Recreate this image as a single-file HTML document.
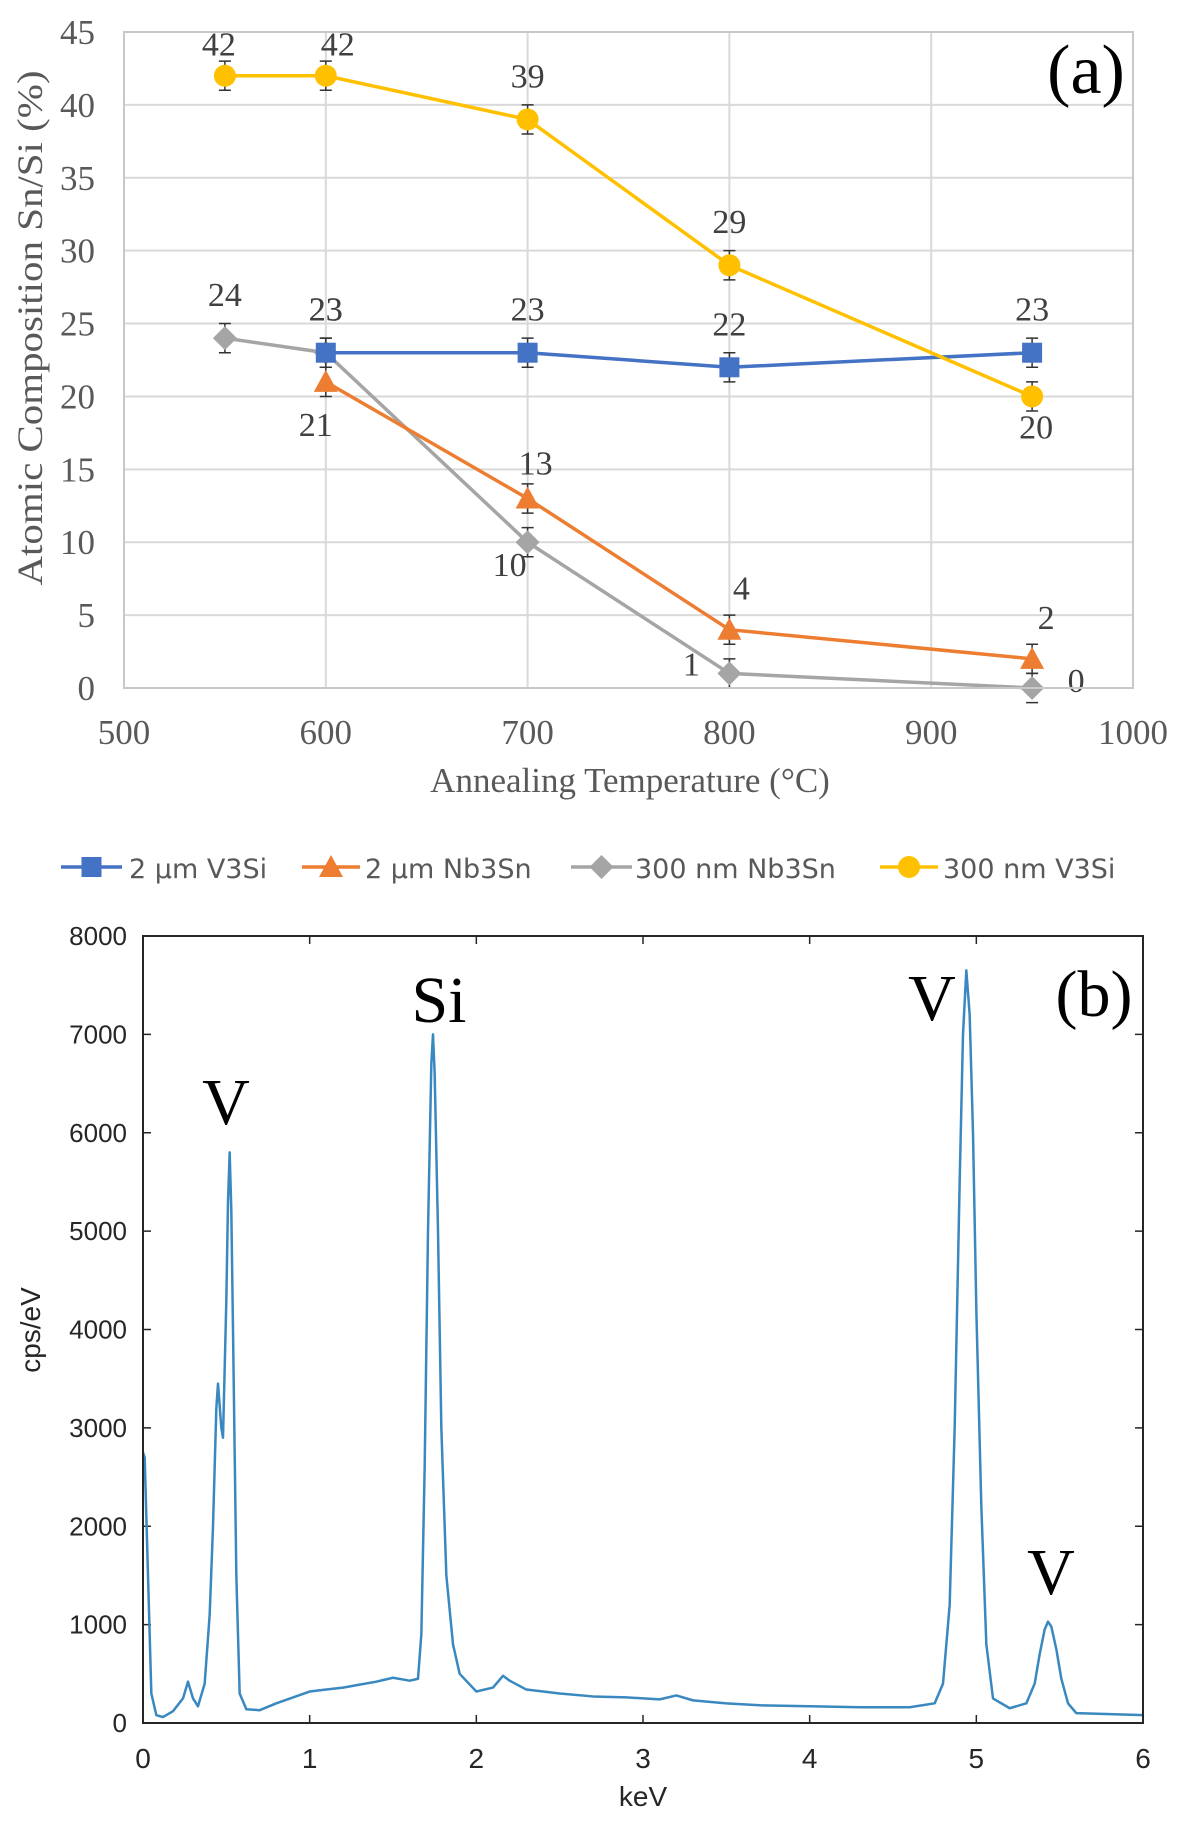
<!DOCTYPE html>
<html><head><meta charset="utf-8">
<style>
html,body{margin:0;padding:0;background:#fff;}
svg{display:block;}
</style></head>
<body>
<svg id="fig" width="1185" height="1830" xmlns="http://www.w3.org/2000/svg">
<g id="chartA"></g>
<g id="legend"></g>
<g id="chartB"></g>
</svg>
<script>
// ---- Chart (a) data ----
const seriesNames = ["2 µm V3Si","2 µm Nb3Sn","300 nm Nb3Sn","300 nm V3Si"];
const tempsBlue = [600,700,800,950];
const valsBlue = [23,23,22,23];
const tempsOrange = [600,700,800,950];
const valsOrange = [21,13,4,2];
const tempsGray = [550,600,700,800,950];
const valsGray = [24,23,10,1,0];
const tempsYellow = [550,600,700,800,950];
const valsYellow = [42,42,39,29,20];
const errBar = 1;
const xTicksA = [500,600,700,800,900,1000];
const yTicksA = [0,5,10,15,20,25,30,35,40,45];
// ---- Chart (b) data: EDS spectrum (keV, cps/eV) ----
const keV = [0,0.01,0.03,0.05,0.08,0.12,0.18,0.24,0.27,0.30,0.33,0.37,0.40,0.42,0.44,0.45,0.47,0.48,0.50,0.51,0.52,0.53,0.54,0.56,0.58,0.62,0.7,0.8,0.9,1.0,1.1,1.2,1.3,1.4,1.5,1.6,1.65,1.67,1.69,1.71,1.73,1.74,1.75,1.77,1.79,1.82,1.86,1.9,2.0,2.1,2.16,2.2,2.3,2.5,2.7,2.9,3.1,3.2,3.3,3.5,3.7,4.0,4.3,4.6,4.75,4.8,4.84,4.87,4.9,4.92,4.94,4.96,4.98,5.0,5.03,5.06,5.1,5.2,5.3,5.35,5.38,5.41,5.43,5.45,5.48,5.51,5.55,5.6,5.8,6.0];
const cps = [2750,2700,1500,300,80,60,120,250,420,250,170,400,1100,2000,3200,3450,3000,2900,4300,5300,5800,5200,4000,1500,300,140,130,200,260,320,340,360,390,420,460,430,450,900,2600,5000,6700,7000,6600,5000,3000,1500,800,500,320,360,480,430,340,300,270,260,240,280,230,200,180,170,160,160,200,400,1200,3000,5500,7000,7650,7200,6000,4200,2200,800,250,150,200,400,700,950,1030,980,750,450,200,100,90,80];
const xTicksB = [0,1,2,3,4,5,6];
const yTicksB = [0,1000,2000,3000,4000,5000,6000,7000,8000];

const NS = "http://www.w3.org/2000/svg";
function mk(tag, attrs, parent, text){
  const e = document.createElementNS(NS, tag);
  for (const k in attrs) e.setAttribute(k, attrs[k]);
  if (text !== undefined) e.textContent = text;
  parent.appendChild(e);
  return e;
}
const A = document.getElementById('chartA');
const L0 = 124, R0 = 1133, T0 = 32, B0 = 688;
const xA = v => L0 + (v-500)/500*(R0-L0);
const yA = v => B0 - v/45*(B0-T0);
const serif = '"Liberation Serif", serif';

yTicksA.forEach(t=>{
  const g = mk('line',{x1:L0,x2:R0,y1:yA(t),y2:yA(t),stroke:'#d9d9d9','stroke-width':2},A);
  
  
  const lb = mk('text',{x:L0-29,y:yA(t)+12,'text-anchor':'end','font-family':serif,'font-size':35,fill:'#595959'},A,String(t));
  
  
});
xTicksA.forEach(t=>{
  const g = mk('line',{x1:xA(t),x2:xA(t),y1:T0,y2:B0,stroke:'#d9d9d9','stroke-width':2},A);
  
  
  const lb = mk('text',{x:xA(t),y:744,'text-anchor':'middle','font-family':serif,'font-size':35,fill:'#595959'},A,String(t));
  
  
});
const axT = mk('text',{x:630,y:792,'text-anchor':'middle','font-family':serif,'font-size':35,fill:'#595959'},A,'Annealing Temperature (°C)');


const ayT = mk('text',{x:0,y:0,'text-anchor':'middle','font-family':serif,'font-size':36,fill:'#595959',textLength:515,lengthAdjust:'spacingAndGlyphs',transform:'translate(42,328) rotate(-90)'},A,'Atomic Composition Sn/Si (%)');


const pa = mk('text',{x:1086,y:93,'text-anchor':'middle','font-family':serif,'font-size':70,fill:'#000'},A,'(a)');



const colors = ['#4472c4','#ed7d31','#a5a5a5','#ffc000'];
const markers = ['square','triangle','diamond','circle'];
const allT = [tempsBlue,tempsOrange,tempsGray,tempsYellow];
const allV = [valsBlue,valsOrange,valsGray,valsYellow];
const labOff = [
  [[0,-32],[0,-32],[0,-32],[0,-32]],
  [[-10,54],[8,-24],[12,-30],[14,-30]],
  [[0,-32],[0,-32],[-18,34],[-38,2],[44,4]],
  [[-6,-20],[12,-20],[0,-32],[0,-32],[4,42]]
];
function marker(kind,x,y,c,g){
  let e;
  if(kind==='square') e = mk('rect',{x:x-10,y:y-10,width:20,height:20,fill:c},g);
  else if(kind==='triangle') e = mk('polygon',{points:`${x},${y-12} ${x+12},${y+10} ${x-12},${y+10}`,fill:c},g);
  else if(kind==='diamond') e = mk('polygon',{points:`${x},${y-12} ${x+12},${y} ${x},${y+12} ${x-12},${y}`,fill:c},g);
  else e = mk('circle',{cx:x,cy:y,r:11,fill:c},g);
  return e;
}
[2,1,0,3].forEach(s=>{
  const g = mk('g',{},A);
  
  
  const pts = allT[s].map((t,i)=>xA(t)+','+yA(allV[s][i])).join(' ');
  const pl = mk('polyline',{points:pts,fill:'none',stroke:colors[s],'stroke-width':3.5},g);
  
  
  allT[s].forEach((t,i)=>{
    const x = xA(t), y = yA(allV[s][i]);
    const y1 = yA(allV[s][i]+errBar), y2 = yA(Math.max(0,allV[s][i]-errBar));
    const eb = mk('path',{d:`M${x},${y1}V${y2}M${x-6},${y1}H${x+6}M${x-6},${yA(allV[s][i]-errBar)}H${x+6}`,stroke:'#333','stroke-width':1.5,fill:'none'},g);
    
    
    const m = marker(markers[s],x,y,colors[s],g);
    
    
    const o = labOff[s][i];
    const lb = mk('text',{x:x+o[0],y:y+o[1],'text-anchor':'middle','font-family':serif,'font-size':34,fill:'#404040'},g,String(allV[s][i]));
    
    
  });
});
const fr = mk('rect',{x:L0,y:T0,width:R0-L0,height:B0-T0,fill:'none',stroke:'#c8c8c8','stroke-width':2},A);



const LG = document.getElementById('legend');
const legX = [[61,122,129],[302,360,365],[571,632,635],[880,938,943]];
seriesNames.forEach((n,s)=>{
  const g = mk('g',{},LG);
  
  
  mk('line',{x1:legX[s][0],x2:legX[s][1],y1:867,y2:867,stroke:colors[s],'stroke-width':3.5},g);
  marker(markers[s],(legX[s][0]+legX[s][1])/2,867,colors[s],g);
  mk('text',{x:legX[s][2],y:878,'font-family':'"DejaVu Sans", sans-serif','font-size':27,fill:'#595959'},g,n);
});

const Bc = document.getElementById('chartB');
const L1 = 143, R1 = 1143, T1 = 936, B1 = 1723;
const xB = v => L1 + v/6*(R1-L1);
const yB = v => B1 - v/8000*(B1-T1);
const sans = '"Liberation Sans", sans-serif';
yTicksB.forEach(t=>{
  const tk = mk('path',{d:`M${L1},${yB(t)}h8M${R1},${yB(t)}h-8`,stroke:'#262626','stroke-width':1.5},Bc);
  
  
  const lb = mk('text',{x:127,y:yB(t)+9,'text-anchor':'end','font-family':sans,'font-size':26,fill:'#262626'},Bc,String(t));
  
  
});
xTicksB.forEach(t=>{
  const tk = mk('path',{d:`M${xB(t)},${B1}v-8M${xB(t)},${T1}v8`,stroke:'#262626','stroke-width':1.5},Bc);
  
  
  const lb = mk('text',{x:xB(t),y:1768,'text-anchor':'middle','font-family':sans,'font-size':28,fill:'#262626'},Bc,String(t));
  
  
});
const sp = mk('polyline',{points:keV.map((k,i)=>xB(k)+','+yB(cps[i])).join(' '),fill:'none',stroke:'#3a88c0','stroke-width':2.5,'stroke-linejoin':'round'},Bc);


const frb = mk('rect',{x:L1,y:T1,width:R1-L1,height:B1-T1,fill:'none',stroke:'#262626','stroke-width':2},Bc);


const bx = mk('text',{x:(L1+R1)/2,y:1806,'text-anchor':'middle','font-family':sans,'font-size':28,fill:'#262626'},Bc,'keV');


const by = mk('text',{x:0,y:0,'text-anchor':'middle','font-family':sans,'font-size':28,fill:'#262626',transform:'translate(40,1330) rotate(-90)'},Bc,'cps/eV');


const annos = [['(b)',1094,1016,'panel-label-b'],['Si',439,1022,'peak-label-si'],['V',226,1124,'peak-label-v1'],['V',932,1020,'peak-label-v2'],['V',1051,1594,'peak-label-v3']];
annos.forEach(a=>{
  const t = mk('text',{x:a[1],y:a[2],'text-anchor':'middle','font-family':serif,'font-size':66,fill:'#000'},Bc,a[0]);
  
  
});
</script>
</body></html>
